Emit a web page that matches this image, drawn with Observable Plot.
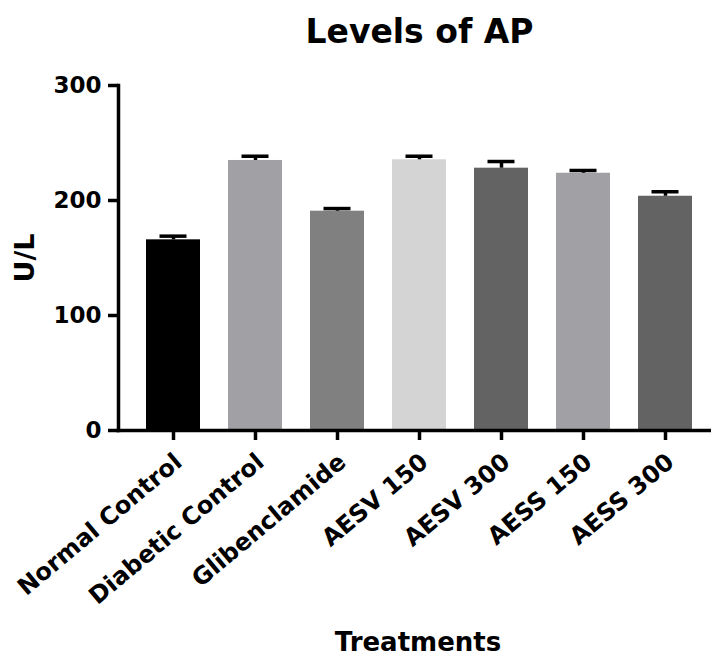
<!DOCTYPE html>
<html>
<head>
<meta charset="utf-8">
<script src="https://cdn.jsdelivr.net/npm/d3@7"></script>
<script src="https://cdn.jsdelivr.net/npm/@observablehq/plot@0.6"></script>
<style>
  html, body { margin: 0; padding: 0; background: #fff; }
</style>
</head>
<body>
<div id="chart"></div>
<script>
const categories = ["Normal Control", "Diabetic Control", "Glibenclamide", "AESV 150", "AESV 300", "AESS 150", "AESS 300"];
const means = [165.8, 234.8, 190.7, 235.4, 228.1, 223.7, 203.7];
const errors = [3.2, 3.7, 2.3, 3.1, 5.8, 2.4, 3.9];
const barColors = ["#000000", "#a1a1a5", "#808080", "#d4d4d4", "#636363", "#a1a1a5", "#636363"];
const yTicks = [0, 100, 200, 300];
const titleText = "Levels of AP";
const xLabel = "Treatments";
const yLabel = "U/L";

const data = categories.map((c, i) => ({treatment: c, mean: means[i], err: errors[i], color: barColors[i]}));

const chart = Plot.plot({
  width: 711,
  height: 658,
  marginTop: 85,
  marginBottom: 228,
  marginLeft: 118,
  marginRight: 0,
  style: {fontFamily: "DejaVu Sans", background: "#fff", color: "#000"},
  x: {domain: categories, range: [131.5, 705.5], padding: 0, axis: null},
  y: {domain: [0, 300], axis: null},
  color: {type: "identity"},
  marks: [
    Plot.barY(data, {x: "treatment", y: "mean", fill: "color", insetLeft: 14, insetRight: 14}),
    Plot.ruleX(data, {x: "treatment", y1: "mean", y2: d => d.mean + d.err, stroke: "#000", strokeWidth: 3.5}),
    Plot.tickY(data, {x: "treatment", y: d => d.mean + d.err, stroke: "#000", strokeWidth: 3.5, insetLeft: 27.5, insetRight: 27.5}),
    Plot.axisY({ticks: yTicks, tickSize: 10, tickPadding: 7, fontSize: 23, fontWeight: "bold", strokeWidth: 3.5, label: null}),
    Plot.axisX({tickSize: 10, tickFormat: () => "", strokeWidth: 3.5, label: null}),
    Plot.frame({anchor: "left", stroke: "#000", strokeWidth: 3.5, strokeLinecap: "square"}),
    Plot.frame({anchor: "bottom", stroke: "#000", strokeWidth: 3.5, strokeLinecap: "square"}),
    Plot.text(categories, {x: d => d, frameAnchor: "bottom", rotate: -40, textAnchor: "end", lineAnchor: "bottom", dx: 10, dy: 34, fontSize: 24, fontWeight: "bold", fill: "#000"}),
    Plot.text([titleText], {frameAnchor: "top", lineAnchor: "bottom", dx: 4.5, dy: -43, fontSize: 33, fontWeight: "bold", fill: "#000"}),
    Plot.text([xLabel], {frameAnchor: "bottom", lineAnchor: "bottom", dx: 3, dy: 220, fontSize: 26, fontWeight: "bold", fill: "#000"}),
    Plot.text([yLabel], {frameAnchor: "left", rotate: -90, textAnchor: "middle", lineAnchor: "middle", dx: -93.5, fontSize: 27, fontWeight: "bold", fill: "#000"})
  ]
});
document.getElementById("chart").appendChild(chart);
</script>
</body>
</html>
